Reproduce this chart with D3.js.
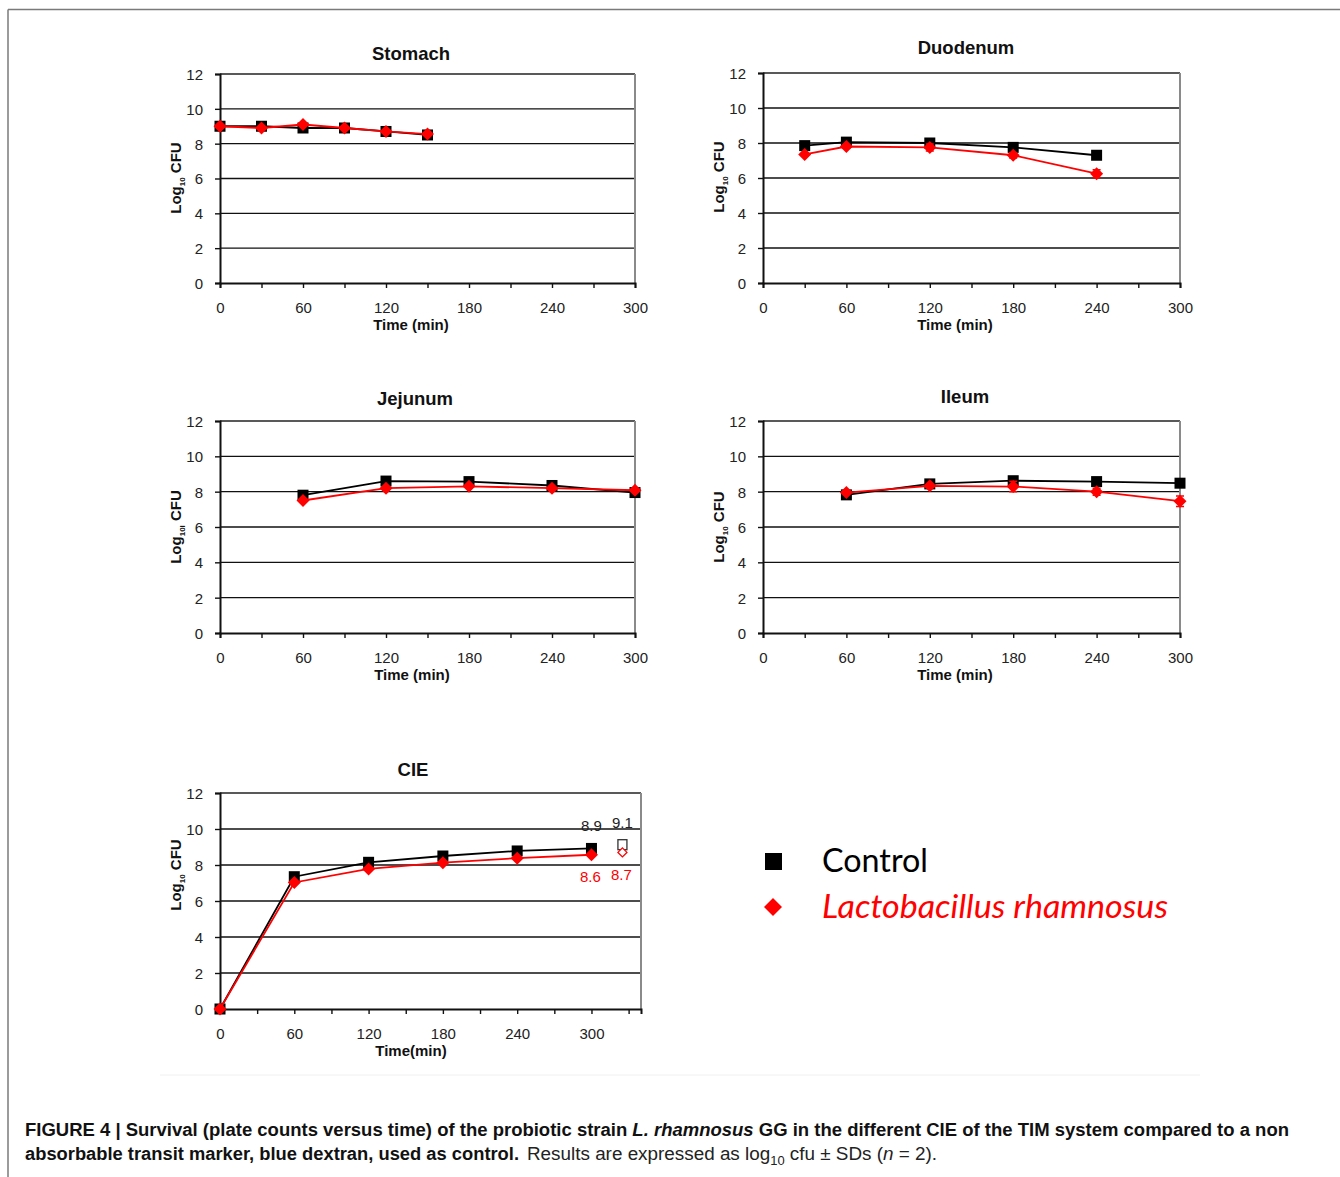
<!DOCTYPE html>
<html><head><meta charset="utf-8">
<script src="https://cdn.jsdelivr.net/npm/d3@7"></script>
<style>body{margin:0;background:#fff}svg{display:block}</style>
</head><body>
<svg id="fig" width="1340" height="1177"></svg>
<script>
// ---- data ----
const stomachTime = [0, 30, 60, 90, 120, 150];
const stomachControl = [9.0, 9.0, 8.9, 8.9, 8.7, 8.5];
const stomachLr = [9.0, 8.9, 9.1, 8.9, 8.7, 8.55];

const duodenumTime = [30, 60, 120, 180, 240];
const duodenumControl = [7.85, 8.05, 8.0, 7.75, 7.3];
const duodenumLr = [7.35, 7.8, 7.75, 7.3, 6.25];
const duodenumLrSd = [0.05, 0.08, 0.2, 0.15, 0.22];

const jejunumTime = [60, 120, 180, 240, 300];
const jejunumControl = [7.8, 8.6, 8.57, 8.35, 7.95];
const jejunumLr = [7.5, 8.2, 8.3, 8.2, 8.08];

const ileumTime = [60, 120, 180, 240, 300];
const ileumControl = [7.82, 8.44, 8.62, 8.57, 8.48];
const ileumLr = [7.95, 8.33, 8.29, 8.0, 7.46];
const ileumLrSd = [0.05, 0.05, 0.3, 0.2, 0.3];

const cieTime = [0, 60, 120, 180, 240, 300];
const cieControl = [0, 7.35, 8.15, 8.5, 8.78, 8.92];
const cieLr = [0, 7.03, 7.78, 8.13, 8.38, 8.57];
const cieExtraTime = [325];
const cieExtraControl = [9.1];
const cieExtraLr = [8.7];
const cieLabelsControl = ["8.9", "9.1"];
const cieLabelsLr = ["8.6", "8.7"];

const xTickLabels = [0, 60, 120, 180, 240, 300];
const yTickLabels = [0, 2, 4, 6, 8, 10, 12];
const legendLabels = ["Control", "Lactobacillus rhamnosus"];

// ---- drawing ----
const svg = d3.select("#fig");
const RED = "#ff0000";
const TICKFONT = "'Liberation Sans', Arial, sans-serif";

// outer frame
svg.append("line").attr("x1", 8).attr("x2", 1340).attr("y1", 9.5).attr("y2", 9.5)
  .attr("stroke", "#7a7a7a").attr("stroke-width", 1.5);
svg.append("line").attr("x1", 8).attr("x2", 8).attr("y1", 9.5).attr("y2", 1177)
  .attr("stroke", "#7a7a7a").attr("stroke-width", 1.5);
svg.append("line").attr("x1", 160).attr("x2", 1200).attr("y1", 1075).attr("y2", 1075)
  .attr("stroke", "#f0f0f0").attr("stroke-width", 1);

function panel(cfg) {
  const g = svg.append("g");
  const x = d3.scaleLinear().domain([0, cfg.xmax]).range([cfg.x0, cfg.x1]);
  const y = d3.scaleLinear().domain([0, 12]).range([cfg.yb, cfg.yt]);

  // gridlines
  g.append("g").selectAll("line").data(yTickLabels.filter(v => v > 0 && v < 12)).join("line")
    .attr("x1", cfg.x0).attr("x2", cfg.x1).attr("y1", d => y(d)).attr("y2", d => y(d))
    .attr("stroke", "#111").attr("stroke-width", 1.4);
  // top and right borders
  g.append("line").attr("x1", cfg.x0).attr("x2", cfg.x1).attr("y1", cfg.yt).attr("y2", cfg.yt)
    .attr("stroke", "#222").attr("stroke-width", 1.6);
  g.append("line").attr("x1", cfg.x1).attr("x2", cfg.x1).attr("y1", cfg.yt).attr("y2", cfg.yb)
    .attr("stroke", "#8a8a8a").attr("stroke-width", 2);

  // axes
  const ya = d3.axisLeft(y).tickValues(yTickLabels).tickSize(5).tickPadding(12).tickFormat(d3.format("d"));
  const yg = g.append("g").attr("transform", `translate(${cfg.x0},0)`).call(ya);
  const xTicks = d3.range(0, cfg.xmax + 1, 30);
  const xa = d3.axisBottom(x).tickValues(xTicks).tickSize(5).tickPadding(14)
    .tickFormat(d => xTickLabels.includes(d) ? d : "");
  const xg = g.append("g").attr("transform", `translate(0,${cfg.yb})`).call(xa);
  [yg, xg].forEach(a => {
    a.select(".domain").attr("stroke", "#111").attr("stroke-width", 2);
    a.selectAll(".tick line").attr("stroke", "#111").attr("stroke-width", 1.4);
    a.selectAll("text").attr("font-family", TICKFONT).attr("font-size", 15).attr("fill", "#222");
  });
  yg.selectAll("text").attr("dy", "0.36em");

  // titles
  g.append("text").attr("x", cfg.tx).attr("y", cfg.ty).attr("text-anchor", "middle")
    .attr("font-family", "'Liberation Sans', Arial, sans-serif").attr("font-weight", "bold")
    .attr("font-size", 18.5).attr("fill", "#111").text(cfg.title);
  g.append("text").attr("x", cfg.xlx).attr("y", cfg.yb + 47).attr("text-anchor", "middle")
    .attr("font-family", "'Liberation Sans', Arial, sans-serif").attr("font-weight", "bold")
    .attr("font-size", 15).attr("fill", "#111").text(cfg.xlabel);
  const yl = g.append("text").attr("transform", `translate(${cfg.ylx},${cfg.yly}) rotate(-90)`)
    .attr("text-anchor", "middle").attr("font-family", "'Liberation Sans', Arial, sans-serif")
    .attr("font-weight", "bold").attr("font-size", 15).attr("fill", "#111");
  yl.append("tspan").text("Log");
  yl.append("tspan").attr("font-size", 8).attr("dy", 4).text(cfg.sub);
  yl.append("tspan").attr("dy", -4).text(" CFU");

  const line = d3.line().x(d => x(d[0])).y(d => y(d[1]));
  const ctrl = cfg.t.map((t, i) => [t, cfg.c[i]]);
  const lr = cfg.t.map((t, i) => [t, cfg.r[i]]);

  g.append("path").datum(ctrl).attr("d", line).attr("fill", "none").attr("stroke", "#000").attr("stroke-width", 1.8);
  g.selectAll(".sq").data(ctrl).join("rect")
    .attr("x", d => x(d[0]) - 5.5).attr("y", d => y(d[1]) - 5.5).attr("width", 11).attr("height", 11)
    .attr("fill", "#000");

  if (cfg.sd) {
    g.selectAll(".eb").data(lr.map((d, i) => [d[0], d[1], cfg.sd[i]])).join("path")
      .attr("d", d => {
        const cx = x(d[0]), a = y(d[1] + d[2]), b = y(d[1] - d[2]);
        return `M${cx - 4},${a}H${cx + 4}M${cx},${a}V${b}M${cx - 4},${b}H${cx + 4}`;
      })
      .attr("stroke", RED).attr("stroke-width", 1.5).attr("fill", "none");
  }
  g.append("path").datum(lr).attr("d", line).attr("fill", "none").attr("stroke", RED).attr("stroke-width", 1.8);
  g.selectAll(".dm").data(lr).join("path")
    .attr("d", d => { const cx = x(d[0]), cy = y(d[1]); return `M${cx},${cy - 6.5}L${cx + 6.5},${cy}L${cx},${cy + 6.5}L${cx - 6.5},${cy}Z`; })
    .attr("fill", RED);
  return { g, x, y };
}

panel({ title: "Stomach", tx: 411, ty: 60, x0: 220, x1: 635, xmax: 300, yt: 74, yb: 283,
  xlabel: "Time (min)", xlx: 411, ylx: 181, yly: 178, sub: "10",
  t: stomachTime, c: stomachControl, r: stomachLr });
panel({ title: "Duodenum", tx: 966, ty: 54, x0: 763, x1: 1180, xmax: 300, yt: 73, yb: 283,
  xlabel: "Time (min)", xlx: 955, ylx: 724, yly: 177, sub: "10",
  t: duodenumTime, c: duodenumControl, r: duodenumLr, sd: duodenumLrSd });
panel({ title: "Jejunum", tx: 415, ty: 405, x0: 220, x1: 635, xmax: 300, yt: 421, yb: 633,
  xlabel: "Time (min)", xlx: 412, ylx: 181, yly: 527, sub: "10l",
  t: jejunumTime, c: jejunumControl, r: jejunumLr });
panel({ title: "Ileum", tx: 965, ty: 403, x0: 763, x1: 1180, xmax: 300, yt: 421, yb: 633,
  xlabel: "Time (min)", xlx: 955, ylx: 724, yly: 527, sub: "10",
  t: ileumTime, c: ileumControl, r: ileumLr, sd: ileumLrSd });
const cie = panel({ title: "CIE", tx: 413, ty: 776, x0: 220, x1: 641, xmax: 340, yt: 793, yb: 1009,
  xlabel: "Time(min)", xlx: 411, ylx: 181, yly: 875, sub: "10",
  t: cieTime, c: cieControl, r: cieLr });

// CIE hollow extra markers + value labels
cie.g.selectAll(".hsq").data(cieExtraTime.map((t, i) => [t, cieExtraControl[i]])).join("rect")
  .attr("x", d => cie.x(d[0]) - 4.5).attr("y", d => cie.y(d[1]) - 5.5).attr("width", 9).attr("height", 10)
  .attr("fill", "#fff").attr("stroke", "#333").attr("stroke-width", 1.3);
cie.g.selectAll(".hdm").data(cieExtraTime.map((t, i) => [t, cieExtraLr[i]])).join("path")
  .attr("d", d => { const cx = cie.x(d[0]), cy = cie.y(d[1]); return `M${cx},${cy - 4.5}L${cx + 4.5},${cy}L${cx},${cy + 4.5}L${cx - 4.5},${cy}Z`; })
  .attr("fill", "#fff").attr("stroke", RED).attr("stroke-width", 1.3);
const labelX = [cieTime[cieTime.length - 1], cieExtraTime[0]];
cie.g.selectAll(".lc").data(cieLabelsControl).join("text")
  .attr("x", (d, i) => cie.x(labelX[i]) + 0).attr("y", (d, i) => i === 0 ? 831 : 828)
  .attr("text-anchor", "middle").attr("font-family", TICKFONT).attr("font-size", 15).attr("fill", "#222").text(d => d);
cie.g.selectAll(".lr").data(cieLabelsLr).join("text")
  .attr("x", (d, i) => cie.x(labelX[i]) - 1).attr("y", (d, i) => i === 0 ? 882 : 880)
  .attr("text-anchor", "middle").attr("font-family", TICKFONT).attr("font-size", 15).attr("fill", RED).text(d => d);

// legend
const lg = svg.append("g");
lg.append("rect").attr("x", 765).attr("y", 853).attr("width", 17).attr("height", 17).attr("fill", "#000");
lg.append("path").attr("d", "M773,898L782,907L773,916L764,907Z").attr("fill", RED);
lg.append("text").attr("x", 822).attr("y", 872).attr("font-family", "Lato, 'Open Sans', sans-serif")
  .attr("font-size", 33).attr("fill", "#000").attr("textLength", 106).attr("lengthAdjust", "spacingAndGlyphs")
  .text(legendLabels[0]);
lg.append("text").attr("x", 822).attr("y", 918).attr("font-family", "Lato, 'Open Sans', sans-serif")
  .attr("font-style", "italic").attr("font-size", 33).attr("fill", RED)
  .attr("textLength", 346).attr("lengthAdjust", "spacingAndGlyphs").text(legendLabels[1]);

// caption
const CAP = "'Liberation Sans Narrow', 'Liberation Sans', Arial, sans-serif";
const c1 = svg.append("text").attr("x", 25).attr("y", 1136).attr("font-family", CAP).attr("font-size", 17.5)
  .attr("font-weight", "bold").attr("fill", "#111").attr("textLength", 1264).attr("lengthAdjust", "spacingAndGlyphs");
c1.append("tspan").text("FIGURE 4 | Survival (plate counts versus time) of the probiotic strain ");
c1.append("tspan").attr("font-style", "italic").text("L. rhamnosus");
c1.append("tspan").text(" GG in the different CIE of the TIM system compared to a non");
svg.append("text").attr("x", 25).attr("y", 1160).attr("font-family", CAP).attr("font-size", 17.5)
  .attr("font-weight", "bold").attr("fill", "#111").attr("textLength", 494).attr("lengthAdjust", "spacingAndGlyphs")
  .text("absorbable transit marker, blue dextran, used as control.");
const c2 = svg.append("text").attr("x", 527).attr("y", 1160).attr("font-family", CAP).attr("font-size", 17.5)
  .attr("fill", "#222").attr("textLength", 410).attr("lengthAdjust", "spacingAndGlyphs");
c2.append("tspan").text("Results are expressed as log");
c2.append("tspan").attr("font-size", 12).attr("dy", 5).text("10");
c2.append("tspan").attr("dy", -5).text(" cfu \u00b1 SDs (");
c2.append("tspan").attr("font-style", "italic").text("n");
c2.append("tspan").text(" = 2).");
</script>
</body></html>
